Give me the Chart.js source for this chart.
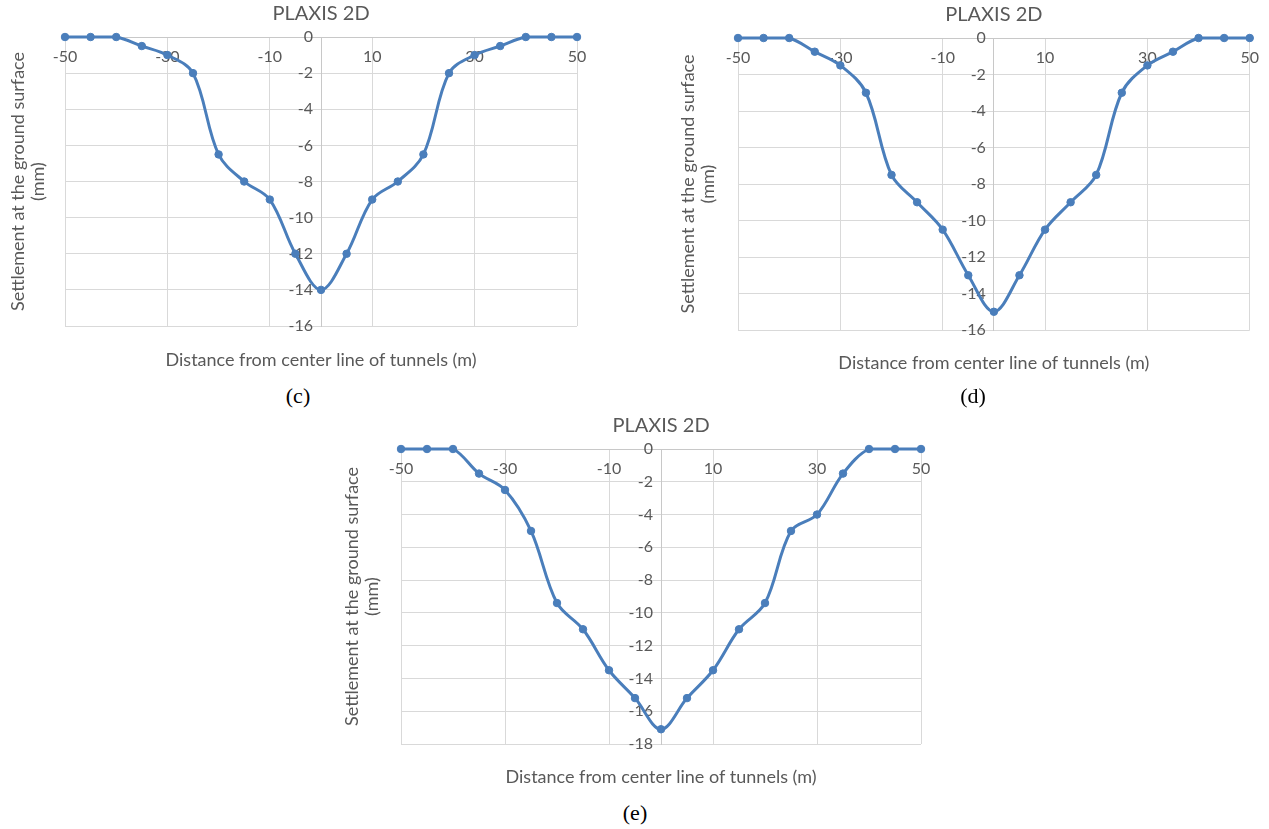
<!DOCTYPE html>
<html>
<head>
<meta charset="utf-8">
<title>PLAXIS 2D - settlement at the ground surface</title>
<script src="https://cdn.jsdelivr.net/npm/chart.js"></script>
<style>
    body {
        margin: 0;
        background: #ffffff;
        width: 1269px;
        height: 829px;
        position: relative;
        overflow: hidden;
    }
    canvas {
        position: absolute;
    }
    .caption {
        position: absolute;
        font-family: 'Liberation Serif', 'Times New Roman', serif;
        font-size: 22px;
        line-height: 24px;
        color: #000000;
        transform: translateX(-50%);
    }
</style>
</head>
<body>
<canvas id="chartC" width="640" height="380" style="left:0px;top:0px"></canvas>
<canvas id="chartD" width="599" height="385" style="left:670px;top:0px"></canvas>
<canvas id="chartE" width="640" height="390" style="left:330px;top:410px"></canvas>

<div class="caption" style="left:298px;top:384px">(c)</div>
<div class="caption" style="left:973px;top:384px">(d)</div>
<div class="caption" style="left:635px;top:801px">(e)</div>

<script>
// Distance from the tunnels' center line (m)
const distance = [-50, -45, -40, -35, -30, -25, -20, -15, -10, -5, 0, 5, 10, 15, 20, 25, 30, 35, 40, 45, 50];

// Settlement at the ground surface (mm)
const settlementC = [0, 0, 0, -0.5, -1, -2, -6.5, -8, -9, -12, -14, -12, -9, -8, -6.5, -2, -1, -0.5, 0, 0, 0];
const settlementD = [0, 0, 0, -0.75, -1.5, -3, -7.5, -9, -10.5, -13, -15, -13, -10.5, -9, -7.5, -3, -1.5, -0.75, 0, 0, 0];
const settlementE = [0, 0, 0, -1.5, -2.5, -5, -9.4, -11, -13.5, -15.2, -17.1, -15.2, -13.5, -11, -9.4, -5, -4, -1.5, 0, 0, 0];

// Tick labels
const xTickValues = [-50, -30, -10, 10, 30, 50];
const yTicks16 = [0, -2, -4, -6, -8, -10, -12, -14, -16];
const yTicks18 = [0, -2, -4, -6, -8, -10, -12, -14, -16, -18];

const BLUE = '#4a7ebb';
const TEXT = '#595959';
const GRID = '#d9d9d9';
const AXIS = '#c8c8c8';
const FONT = 'Lato';

// One Excel-like panel
function drawSettlementChart(canvasId, values, yTicks, pad) {
    const ctx = document.getElementById(canvasId).getContext('2d');

    return new Chart(ctx, {
        type: 'line',
        data: {
            datasets: [{
                data: distance.map((d, i) => ({ x: d, y: values[i] })),
                borderColor: BLUE,
                backgroundColor: BLUE,
                pointBackgroundColor: BLUE,
                pointBorderColor: BLUE,
                borderWidth: 3,
                pointRadius: 3.75,
                pointBorderWidth: 1,
                tension: 0.35,
                clip: false,
                xAxisID: 'x',
                yAxisID: 'y'
            }]
        },
        options: {
            responsive: false,
            animation: false,
            events: [],
            layout: {
                padding: { left: 4, right: pad.right, top: 0, bottom: 0 }
            },
            plugins: {
                legend: { display: false },
                tooltip: { enabled: false },
                title: {
                    display: true,
                    text: 'PLAXIS 2D',
                    fullSize: false,
                    color: TEXT,
                    font: { family: FONT, size: 20, weight: 'normal', lineHeight: 1.2 },
                    padding: { top: pad.titleTop, bottom: pad.titleBottom }
                }
            },
            scales: {
                x: {
                    type: 'linear',
                    position: { y: 0 },
                    min: xTickValues[0],
                    max: xTickValues[xTickValues.length - 1],
                    afterBuildTicks: axis => {
                        axis.ticks = xTickValues.map(v => ({ value: v }));
                    },
                    grid: { color: GRID, lineWidth: 1, drawTicks: false },
                    border: { color: AXIS, width: 1 },
                    ticks: {
                        color: TEXT,
                        font: { family: FONT, size: 16, lineHeight: 1.2 },
                        padding: 10,
                        maxRotation: 0,
                        autoSkip: false
                    }
                },
                y: {
                    type: 'linear',
                    position: { x: 0 },
                    min: yTicks[yTicks.length - 1],
                    max: yTicks[0],
                    afterBuildTicks: axis => {
                        axis.ticks = yTicks.map(v => ({ value: v }));
                    },
                    grid: { color: GRID, lineWidth: 1, drawTicks: false },
                    border: { color: AXIS, width: 1 },
                    ticks: {
                        color: TEXT,
                        font: { family: FONT, size: 16, lineHeight: 1.2 },
                        autoSkip: false,
                        // labels sit right against the axis line otherwise
                        callback: v => v + '\u2002'
                    }
                },
                xt: {
                    type: 'linear',
                    axis: 'x',
                    position: 'bottom',
                    display: true,
                    ticks: { display: false },
                    grid: { display: false, drawTicks: false },
                    border: { display: false },
                    title: {
                        display: true,
                        text: 'Distance from center line of tunnels (m)',
                        color: TEXT,
                        font: { family: FONT, size: 18, lineHeight: 20 / 18 },
                        padding: { top: pad.xTitleTop, bottom: pad.xTitleBottom }
                    }
                },
                yt: {
                    type: 'linear',
                    axis: 'y',
                    position: 'left',
                    display: true,
                    ticks: { display: false },
                    grid: { display: false, drawTicks: false },
                    border: { display: false },
                    title: {
                        display: true,
                        text: ['Settlement at the ground surface', '(mm)'],
                        color: TEXT,
                        font: { family: FONT, size: 18, lineHeight: 20 / 18 },
                        padding: { top: pad.yTitleTop, bottom: pad.yTitleBottom }
                    }
                }
            }
        }
    });
}

document.addEventListener('DOMContentLoaded', function() {
    drawSettlementChart('chartC', settlementC, yTicks16, {
        right: 63, titleTop: 2, titleBottom: 11,
        xTitleTop: 24, xTitleBottom: 10, yTitleTop: 4, yTitleBottom: 17
    });
    drawSettlementChart('chartD', settlementD, yTicks16, {
        right: 13, titleTop: 3, titleBottom: 11,
        xTitleTop: 23, xTitleBottom: 12, yTitleTop: 4, yTitleBottom: 20
    });
    drawSettlementChart('chartE', settlementE, yTicks18, {
        right: 49, titleTop: 4, titleBottom: 11,
        xTitleTop: 23, xTitleBottom: 13, yTitleTop: 8, yTitleBottom: 19
    });
});
</script>
</body>
</html>
